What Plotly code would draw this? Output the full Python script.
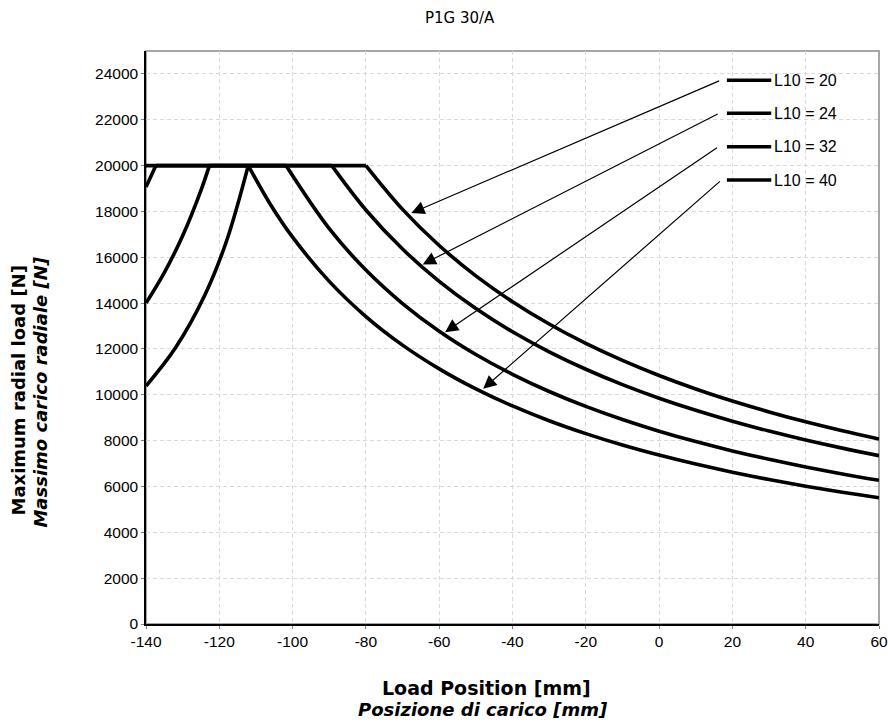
import plotly.graph_objects as go

# ---------------- data ----------------
series_names = ["L10 = 20", "L10 = 24", "L10 = 32", "L10 = 40"]
max_load = 20000  # plateau value [N]

# rising branches (load position [mm], max radial load [N])
rise_x_24 = [-140, -137.3]
rise_y_24 = [19067, 20000]
rise_x_32 = [-140, -135, -130, -125, -122.7]
rise_y_32 = [14003, 15332, 16939, 18923, 20000]
rise_x_40 = [-140, -132, -124, -118, -112.1]
rise_y_40 = [10379, 12040, 14333, 16722, 20000]

# plateau limits (start, end) at 20000 N
plateau_x_20 = [-140, -80]
plateau_x_24 = [-137.3, -89.3]
plateau_x_32 = [-122.7, -101.8]

# falling branches
fall_x_20 = [-80, -70, -60, -50, -40, -30, -20, -10, 0, 10, 20, 30, 40, 50, 60]
fall_y_20 = [20000, 18090, 16513, 15189, 14061, 13089, 12243, 11500, 10842,
             10254, 9728, 9253, 8822, 8429, 8070]
fall_x_24 = [-89.3, -80, -70, -60, -50, -40, -30, -20, -10, 0, 10, 20, 30, 40, 50, 60]
fall_y_24 = [20000, 18063, 16358, 14948, 13762, 12750, 11877, 11115, 10446, 9852,
             9323, 8847, 8417, 8028, 7673, 7347]
fall_x_32 = [-101.8, -90, -80, -70, -60, -50, -40, -30, -20, -10, 0, 10, 20, 30, 40, 50, 60]
fall_y_32 = [20000, 17246, 15444, 13983, 12774, 11758, 10892, 10144, 9493, 8920,
             8412, 7959, 7552, 7185, 6852, 6549, 6271]
fall_x_40 = [-112.1, -106, -100, -90, -80, -70, -60, -50, -40, -30, -20, -10, 0, 10, 20, 30, 40, 50, 60]
fall_y_40 = [20000, 18294, 16877, 14949, 13415, 12167, 11132, 10259, 9513, 8868,
             8305, 7809, 7369, 6976, 6623, 6304, 6014, 5749, 5507]

x_ticks = [-140, -120, -100, -80, -60, -40, -20, 0, 20, 40, 60]
y_ticks = [0, 2000, 4000, 6000, 8000, 10000, 12000, 14000, 16000, 18000, 20000, 22000, 24000]

# ---------------- figure ----------------
LINE = dict(color="black", width=3.6)
fig = go.Figure()

def add(x, y, shape="spline"):
    fig.add_trace(go.Scatter(x=x, y=y, mode="lines", line=dict(LINE, shape=shape),
                             showlegend=False, hoverinfo="skip"))

# L10 = 20
add(plateau_x_20, [max_load] * 2, "linear")
add(fall_x_20, fall_y_20)
# L10 = 24
add(rise_x_24, rise_y_24, "linear")
add(plateau_x_24, [max_load] * 2, "linear")
add(fall_x_24, fall_y_24)
# L10 = 32
add(rise_x_32, rise_y_32)
add(plateau_x_32, [max_load] * 2, "linear")
add(fall_x_32, fall_y_32)
# L10 = 40
add(rise_x_40, rise_y_40)
add(fall_x_40, fall_y_40)

# label block (positions only)
label_line_x = (18.5, 30.6)
label_y = [23725, 22284, 20825, 19371]
arrow_tail_x = [16.8, 16.4, 16.2, 17.0]
arrow_tip = [(-67.6, 17930), (-64.5, 15690), (-58.4, 12734), (-48.0, 10262)]

annotations = []
shapes = []
for name, ly, tx, (px, py) in zip(series_names, label_y, arrow_tail_x, arrow_tip):
    shapes.append(dict(type="line", xref="x", yref="y", x0=label_line_x[0], x1=label_line_x[1],
                       y0=ly, y1=ly, line=dict(color="black", width=3.6)))
    annotations.append(dict(x=label_line_x[1] + 0.3, y=ly, xref="x", yref="y", text=name,
                            showarrow=False, xanchor="left", yanchor="middle",
                            font=dict(family="Liberation Sans, Arial", size=16, color="black")))
    annotations.append(dict(x=px, y=py, xref="x", yref="y", ax=tx, ay=ly, axref="x", ayref="y",
                            text="", showarrow=True, arrowhead=2, arrowsize=2.2,
                            arrowwidth=1.2, arrowcolor="black"))

# frame (grey top/right)
shapes.append(dict(type="rect", xref="paper", yref="paper", x0=0, x1=1, y0=0, y1=1,
                   line=dict(color="#a6a6a6", width=2), layer="below"))

PW, PH, PL, PB = 733.0, 572.6, 146.0, 623.3   # plot box in reference pixels
def px_x(p):
    return (p - PL) / PW
def px_y(p):
    return (PB - p) / PH

TITLE_FONT = "DejaVu Sans, Verdana, sans-serif"
annotations += [
    dict(text="P1G 30/A", xref="paper", yref="paper", x=px_x(460), y=px_y(18),
         xanchor="center", yanchor="middle", showarrow=False,
         font=dict(family=TITLE_FONT, size=15, color="black")),
    dict(text="<b>Load Position [mm]</b>", xref="paper", yref="paper",
         x=px_x(486), y=px_y(687), xanchor="center", yanchor="middle", showarrow=False,
         font=dict(family=TITLE_FONT, size=19, color="black")),
    dict(text="<b><i>Posizione di carico [mm]</i></b>", xref="paper", yref="paper",
         x=px_x(483), y=px_y(709), xanchor="center", yanchor="middle", showarrow=False,
         font=dict(family=TITLE_FONT, size=18, color="black")),
    dict(text="<b>Maximum radial load [N]</b>", xref="paper", yref="paper", textangle=-90,
         x=px_x(19), y=px_y(390), xanchor="center", yanchor="middle", showarrow=False,
         font=dict(family=TITLE_FONT, size=18, color="black")),
    dict(text="<b><i>Massimo carico radiale [N]</i></b>", xref="paper", yref="paper", textangle=-90,
         x=px_x(41), y=px_y(392), xanchor="center", yanchor="middle", showarrow=False,
         font=dict(family=TITLE_FONT, size=18, color="black")),
]

axis_common = dict(showgrid=True, gridcolor="#d9d9d9", griddash="4px,3px", gridwidth=1,
                   showline=True, linecolor="black", linewidth=1.5, zeroline=False,
                   ticks="outside", ticklen=3, tickcolor="#7f7f7f", tickwidth=1,
                   automargin=False,
                   tickfont=dict(family="Liberation Sans, Arial", size=15.5, color="black"))

fig.update_layout(
    width=888, height=725,
    margin=dict(l=146, r=9, t=51, b=101.4),
    paper_bgcolor="white", plot_bgcolor="white",
    xaxis=dict(axis_common, range=[-140, 60], tickvals=x_ticks,
               ticktext=[str(v) for v in x_ticks]),
    yaxis=dict(axis_common, range=[0, 25000], tickvals=y_ticks,
               ticktext=[str(v) for v in y_ticks]),
    shapes=shapes, annotations=annotations,
)

# remove the default page margin so the 888x725 figure fills the window exactly
fig.write_html(
    "out.html",
    config={"displayModeBar": False},
    post_script="document.body.style.margin='0';document.body.style.overflow='hidden';"
                "document.documentElement.style.overflow='hidden';",
)
